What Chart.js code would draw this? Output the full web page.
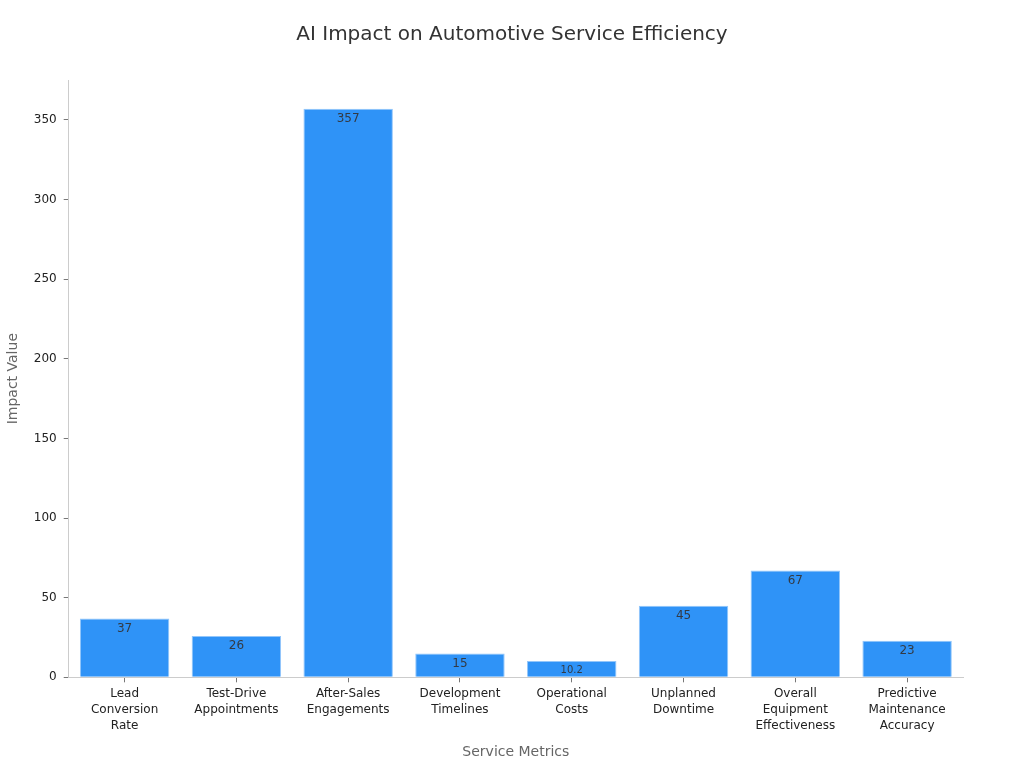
<!DOCTYPE html>
<html>
<head>
<meta charset="utf-8">
<script src="https://cdn.jsdelivr.net/npm/chart.js@4.4.0/dist/chart.umd.min.js"></script>
<style>
html,body{margin:0;padding:0;background:#fff;}
#wrap{width:1024px;height:768px;}
</style>
</head>
<body>
<div id="wrap"><canvas id="c"></canvas></div>
<script>
const categories = [
  ["Lead","Conversion","Rate"],
  ["Test-Drive","Appointments"],
  ["After-Sales","Engagements"],
  ["Development","Timelines"],
  ["Operational","Costs"],
  ["Unplanned","Downtime"],
  ["Overall","Equipment","Effectiveness"],
  ["Predictive","Maintenance","Accuracy"]
];
const impactValues = [37, 26, 357, 15, 10.2, 45, 67, 23];
const yTicks = [0, 50, 100, 150, 200, 250, 300, 350];

const valueLabels = {
  id: 'valueLabels',
  afterDatasetsDraw(chart) {
    const ctx = chart.ctx;
    const meta = chart.getDatasetMeta(0);
    ctx.save();
    ctx.textAlign = 'center';
    ctx.textBaseline = 'middle';
    ctx.fillStyle = '#333a44';
    meta.data.forEach((bar, i) => {
      const h = bar.base - bar.y;
      const size = h < 20 ? 10 : 12;
      ctx.font = size + 'px "DejaVu Sans"';
      const y = h < 20 ? bar.y + h / 2 + 1 : bar.y + 10;
      ctx.fillText(String(impactValues[i]), bar.x, y);
    });
    ctx.restore();
  }
};

new Chart(document.getElementById('c'), {
  type: 'bar',
  data: {
    labels: categories,
    datasets: [{
      data: impactValues,
      backgroundColor: '#2f93f7',
      borderColor: '#93c6fa',
      borderWidth: 1,
      barPercentage: 0.8,
      categoryPercentage: 1.0
    }]
  },
  options: {
    responsive: true,
    maintainAspectRatio: false,
    animation: false,
    layout: { padding: { left: 5, right: 5, top: 23, bottom: 7 } },
    plugins: {
      legend: { display: false },
      tooltip: { enabled: false },
      title: {
        display: true,
        text: 'AI Impact on Automotive Service Efficiency',
        color: '#333333',
        font: { family: 'DejaVu Sans', size: 20, weight: 'normal' },
        padding: { top: 0, bottom: 33 }
      }
    },
    scales: {
      x: {
        grid: { offset: false, drawOnChartArea: false, drawTicks: true, tickLength: 5, color: '#777777' },
        border: { display: true, color: '#cccccc' },
        ticks: { color: '#222222', font: { family: 'DejaVu Sans', size: 12, lineHeight: 1.33 }, maxRotation: 0, autoSkip: false, padding: 4 },
        title: { display: true, text: 'Service Metrics', color: '#666666', font: { family: 'DejaVu Sans', size: 14 }, padding: { top: 6, bottom: 0 } }
      },
      y: {
        min: 0,
        max: 375,
        afterBuildTicks(scale) { scale.ticks = yTicks.map(v => ({ value: v })); },
        grid: { drawOnChartArea: false, drawTicks: true, tickLength: 5, color: '#777777' },
        border: { display: true, color: '#cccccc' },
        ticks: { color: '#222222', font: { family: 'DejaVu Sans', size: 12 }, padding: 7 },
        title: { display: true, text: 'Impact Value', color: '#666666', font: { family: 'DejaVu Sans', size: 14 }, padding: { top: 0, bottom: 5 } }
      },
      yR: {
        position: 'right',
        display: true,
        min: 0,
        max: 375,
        grid: { display: false },
        border: { display: false },
        ticks: { display: false },
        afterFit(scale) { scale.width = 56; }
      }
    }
  },
  plugins: [valueLabels]
});
</script>
</body>
</html>
